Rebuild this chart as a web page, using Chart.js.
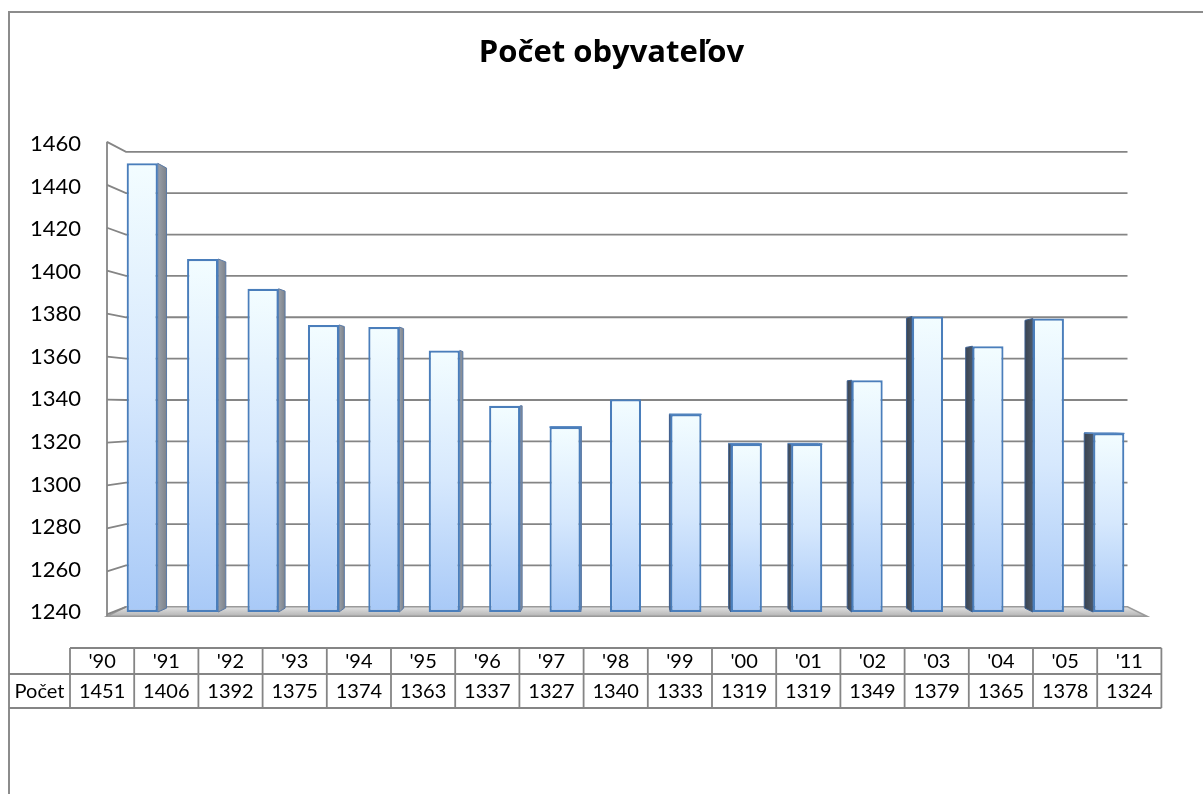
<!DOCTYPE html>
<html>
<head>
<meta charset="utf-8">
<script src="https://cdn.jsdelivr.net/npm/chart.js@4.4.1/dist/chart.umd.min.js"></script>
<style>
  html, body { margin: 0; padding: 0; background: #ffffff; }
  canvas { display: block; }
</style>
</head>
<body>
<canvas id="c" width="1203" height="794"></canvas>
<script>
// ---- data ----
const chartTitle = 'Počet obyvateľov';
const seriesLabel = 'Počet';
const categories = ["'90", "'91", "'92", "'93", "'94", "'95", "'96", "'97", "'98", "'99", "'00", "'01", "'02", "'03", "'04", "'05", "'11"];
const population = [1451, 1406, 1392, 1375, 1374, 1363, 1337, 1327, 1340, 1333, 1319, 1319, 1349, 1379, 1365, 1378, 1324];
const yTickValues = [1240, 1260, 1280, 1300, 1320, 1340, 1360, 1380, 1400, 1420, 1440, 1460];

// ---- styling / geometry (not data) ----
const GEO = { vx: 620, vyFrac: 0.57, wallScale: 0.963, barScale: 0.981, axisGrow: 1.01, leftOut: 5, rightOut: 8 };
const GRID = '#858585';
const FONT = 'Lato, "Open Sans", "DejaVu Sans", sans-serif';
const TITLE_FONT = '"Open Sans", Lato, sans-serif';

function helpers(chart) {
  const a = chart.chartArea, y = chart.scales.y;
  const cx = GEO.vx, cy = a.top + (a.bottom - a.top) * GEO.vyFrac;
  const mid = (a.top + a.bottom) / 2;
  const proj = (x, yy, s) => [cx + (x - cx) * s, cy + (yy - cy) * s];
  const fa = v => mid + (y.getPixelForValue(v) - mid) * GEO.axisGrow;
  return { a, y, cx, cy, proj, fa, L0: a.left - GEO.leftOut, R0: a.right + GEO.rightOut };
}

const frame3d = {
  id: 'frame3d',
  beforeDraw(chart) {
    const ctx = chart.ctx;
    ctx.save();
    ctx.fillStyle = '#fff';
    ctx.fillRect(0, 0, chart.width, chart.height);
    ctx.strokeStyle = '#8c8c8c';
    ctx.lineWidth = 2;
    ctx.beginPath();
    ctx.moveTo(9, chart.height);
    ctx.lineTo(9, 12);
    ctx.lineTo(chart.width, 12);
    ctx.stroke();
    ctx.restore();
  },
  beforeDatasetsDraw(chart) {
    const { a, cx, cy, proj, fa, L0, R0 } = helpers(chart);
    const ctx = chart.ctx;
    const s = GEO.wallScale;
    const vMin = yTickValues[0], vMax = yTickValues[yTickValues.length - 1];
    ctx.save();
    // floor
    const f0 = fa(vMin);
    const bl = proj(L0, f0, s), br = proj(R0, f0, s);
    ctx.beginPath();
    ctx.moveTo(L0, f0 + 2);
    ctx.lineTo(R0, f0 + 2);
    ctx.lineTo(br[0], br[1]);
    ctx.lineTo(bl[0], bl[1]);
    ctx.closePath();
    const fg = ctx.createLinearGradient(0, bl[1], 0, f0 + 2);
    fg.addColorStop(0, '#e2e2e2');
    fg.addColorStop(1, '#b4b4b4');
    ctx.fillStyle = fg;
    ctx.fill();
    ctx.strokeStyle = '#9a9a9a';
    ctx.lineWidth = 1.5;
    ctx.stroke();
    // gridlines on back wall + left wall
    ctx.strokeStyle = GRID;
    ctx.lineWidth = 1.8;
    yTickValues.forEach(v => {
      const fy = fa(v);
      const p = proj(L0, fy, s), q = proj(R0, fy, s);
      ctx.beginPath();
      ctx.moveTo(L0, fy);
      ctx.lineTo(p[0], p[1]);
      if (v !== vMin) ctx.lineTo(q[0], p[1]);
      ctx.stroke();
    });
    // front vertical axis
    ctx.beginPath();
    ctx.moveTo(L0, fa(vMax));
    ctx.lineTo(L0, f0 + 2);
    ctx.stroke();

    // bar sides
    const meta = chart.getDatasetMeta(0);
    const bs = GEO.barScale;
    meta.data.forEach(el => {
      const p = el.getProps(['x', 'y', 'base', 'width'], true);
      const left = p.x - p.width / 2, right = p.x + p.width / 2;
      const top = p.y, base = Math.min(p.base, a.bottom);
      if (right < cx - 1) {
        const t = proj(right, top, bs), b = proj(right, base, bs);
        ctx.beginPath();
        ctx.moveTo(right, top); ctx.lineTo(t[0], t[1]); ctx.lineTo(b[0], b[1]); ctx.lineTo(right, base);
        ctx.closePath();
        const g = ctx.createLinearGradient(right, 0, t[0], 0);
        g.addColorStop(0, '#9aa0a8'); g.addColorStop(1, '#7c828b');
        ctx.fillStyle = g; ctx.fill();
        ctx.strokeStyle = '#5a7aa6'; ctx.lineWidth = 1; ctx.stroke();
      } else if (left > cx + 1) {
        const t = proj(left, top, bs), b = proj(left, base, bs);
        ctx.beginPath();
        ctx.moveTo(left, top); ctx.lineTo(t[0], t[1]); ctx.lineTo(b[0], b[1]); ctx.lineTo(left, base);
        ctx.closePath();
        const g = ctx.createLinearGradient(t[0], 0, left, 0);
        g.addColorStop(0, '#3a4452'); g.addColorStop(1, '#4d5968');
        ctx.fillStyle = g; ctx.fill();
        ctx.strokeStyle = '#3d5f8e'; ctx.lineWidth = 1; ctx.stroke();
      }
      if (top > cy) {
        const tl = proj(left, top, bs), tr = proj(right, top, bs);
        ctx.beginPath();
        ctx.moveTo(left, top); ctx.lineTo(right, top); ctx.lineTo(tr[0], tr[1]); ctx.lineTo(tl[0], tl[1]);
        ctx.closePath();
        ctx.fillStyle = '#e6f4ff'; ctx.fill();
        ctx.strokeStyle = '#4f81bd'; ctx.lineWidth = 1; ctx.stroke();
      }
    });
    ctx.restore();
  },
  afterDraw(chart) {
    // data table
    const ctx = chart.ctx;
    const x0 = 9, x1 = 70, colW = 64.2;
    const y0 = 648, y1 = 674, y2 = 708;
    const n = categories.length;
    const xe = x1 + n * colW;
    ctx.save();
    ctx.strokeStyle = GRID;
    ctx.lineWidth = 1.8;
    ctx.beginPath();
    ctx.moveTo(x1, y0); ctx.lineTo(xe, y0);
    ctx.moveTo(x0, y1); ctx.lineTo(xe, y1);
    ctx.moveTo(x0, y2); ctx.lineTo(xe, y2);
    for (let i = 0; i <= n; i++) {
      const x = x1 + i * colW;
      ctx.moveTo(x, y0); ctx.lineTo(x, y2);
    }
    ctx.stroke();
    ctx.fillStyle = '#000';
    ctx.font = '20px ' + FONT;
    ctx.textAlign = 'center';
    ctx.textBaseline = 'middle';
    ctx.fillText(seriesLabel, (x0 + x1) / 2, (y1 + y2) / 2 + 1);
    categories.forEach((c, i) => {
      const cxm = x1 + (i + 0.5) * colW;
      ctx.fillText(c, cxm, (y0 + y1) / 2 + 1);
      ctx.fillText(String(population[i]), cxm, (y1 + y2) / 2 + 1);
    });
    ctx.restore();
  }
};

new Chart(document.getElementById('c'), {
  type: 'bar',
  data: {
    labels: categories,
    datasets: [{
      label: seriesLabel,
      data: population,
      base: yTickValues[0],
      yAxisID: 'y',
      backgroundColor: (c) => {
        const ch = c.chart, a = ch.chartArea;
        if (!a || c.raw === undefined) return '#cfe3fb';
        const top = ch.scales.y.getPixelForValue(c.raw);
        const g = ch.ctx.createLinearGradient(0, top, 0, a.bottom);
        g.addColorStop(0, '#f3fdff');
        g.addColorStop(0.5, '#d6e8fd');
        g.addColorStop(1, '#a8c9f7');
        return g;
      },
      borderColor: '#4a7ebb',
      borderWidth: 2.2,
      borderSkipped: false,
      barPercentage: 0.515,
      categoryPercentage: 1.0
    }]
  },
  options: {
    responsive: false,
    animation: false,
    layout: { padding: { top: 0, left: 20, right: 0, bottom: 182 } },
    plugins: {
      legend: { display: false },
      tooltip: { enabled: false },
      title: {
        display: true,
        text: chartTitle,
        color: '#000',
        font: { family: TITLE_FONT, size: 31, weight: 'bold' },
        padding: { top: 35, bottom: 72 }
      }
    },
    scales: {
      x: { display: false },
      y: {
        position: 'left',
        min: yTickValues[0],
        max: yTickValues[yTickValues.length - 1],
        afterBuildTicks: (s) => { s.ticks = yTickValues.map(v => ({ value: v })); },
        afterFit: (s) => { s.width = 92; },
        grid: { display: false, drawTicks: false },
        border: { display: false },
        ticks: { color: '#000', font: { family: FONT, size: 22 }, padding: 31, callback: (v) => String(v) }
      },
      yr: {
        type: 'linear',
        position: 'right',
        display: true,
        afterFit: (s) => { s.width = 64; },
        grid: { display: false, drawTicks: false },
        border: { display: false },
        ticks: { display: false }
      }
    }
  },
  plugins: [frame3d]
});
</script>
</body>
</html>
